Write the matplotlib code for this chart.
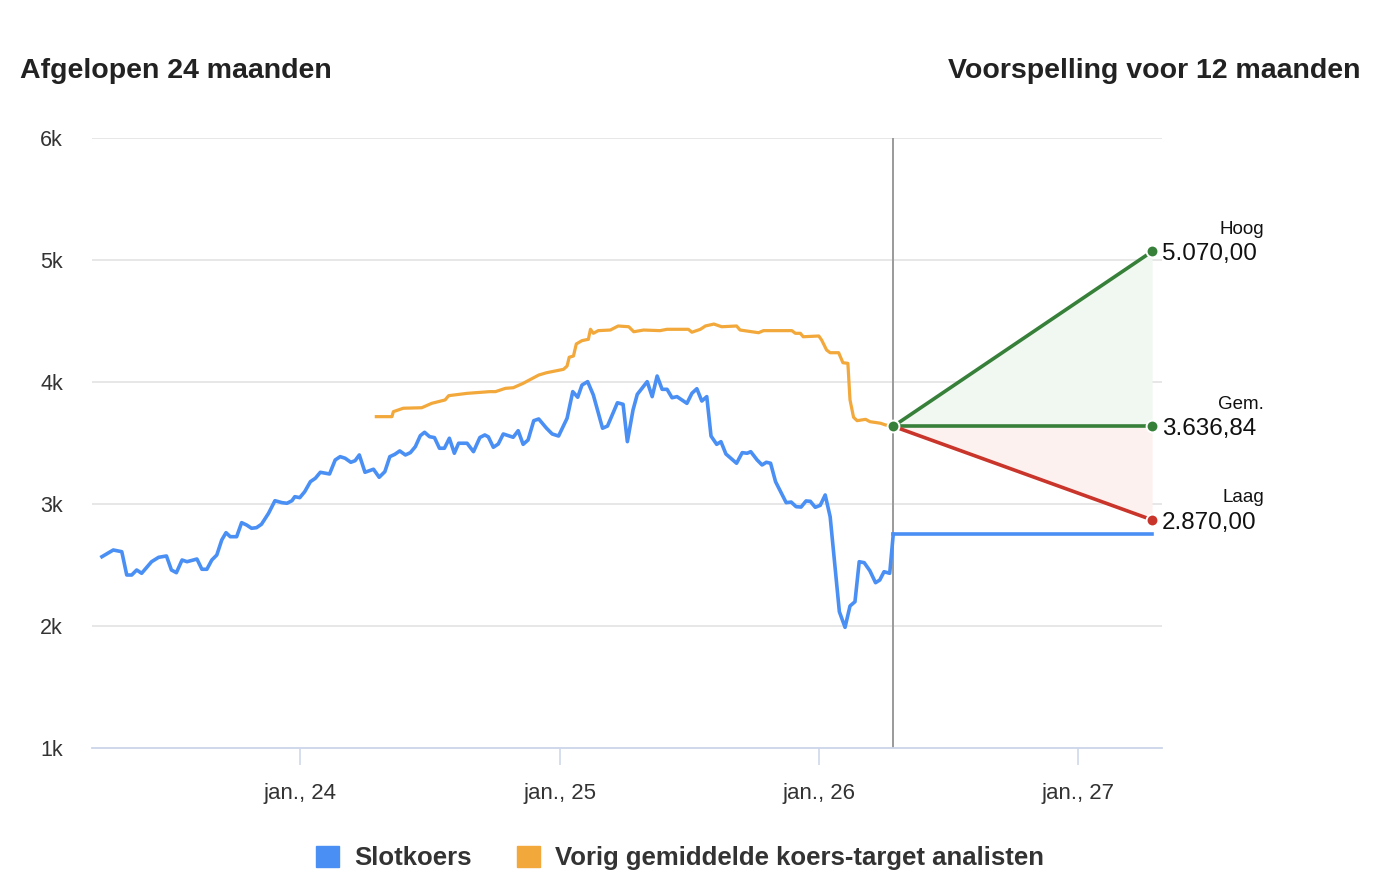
import numpy as np
import pandas as pd
import matplotlib
matplotlib.use("Agg")
import matplotlib.pyplot as plt
from matplotlib.patches import Patch

plt.rcParams['font.family'] = ['Liberation Sans', 'DejaVu Sans']

########## DATA (day offsets from 2023-01-01)
base = pd.Timestamp('2023-01-01')

close_days = [85, 101, 113, 120, 127, 134, 141, 155, 165, 176, 183, 190, 198, 205, 219, 226,
              233, 240, 247, 254, 260, 266, 275, 282, 289, 296, 303, 310, 320, 329, 339, 346,
              353, 357, 364, 371, 379, 386, 393, 406, 414, 421, 428, 436, 442, 448, 456, 468,
              476, 484, 491, 498, 505, 513, 520, 527, 534, 540, 547, 554, 561, 568, 575, 582,
              588, 600, 609, 618, 625, 630, 637, 644, 651, 665, 672, 679, 686, 694, 701, 712,
              720, 729, 741, 749, 756, 762, 770, 778, 791, 798, 812, 820, 826, 834, 840, 854,
              861, 868, 875, 882, 889, 896, 910, 917, 924, 931, 938, 944, 952, 958, 965, 980,
              988, 995, 1000, 1009, 1016, 1022, 1028, 1035, 1050, 1057, 1064, 1071, 1078, 1084,
              1091, 1098, 1105, 1112, 1125, 1133, 1140, 1147, 1153, 1160, 1168, 1176, 1182,
              1188, 1196, 1201]
close_vals = [2568, 2623, 2609, 2418, 2418, 2459, 2432, 2527, 2563, 2574, 2459, 2437, 2541, 2527,
              2549, 2465, 2465, 2541, 2582, 2705, 2765, 2732, 2732, 2847, 2828, 2801, 2806, 2834,
              2924, 3027, 3011, 3006, 3027, 3060, 3052, 3101, 3183, 3211, 3260, 3246, 3361, 3388,
              3375, 3342, 3355, 3402, 3260, 3285, 3219, 3265, 3388, 3407, 3435, 3402, 3421, 3470,
              3560, 3588, 3552, 3544, 3457, 3457, 3539, 3416, 3498, 3498, 3429, 3545, 3566, 3550,
              3465, 3492, 3574, 3547, 3601, 3489, 3525, 3683, 3697, 3621, 3574, 3557, 3703, 3921,
              3875, 3975, 4003, 3894, 3621, 3639, 3830, 3817, 3511, 3771, 3899, 4003, 3880, 4049,
              3940, 3940, 3871, 3880, 3825, 3907, 3945, 3844, 3880, 3557, 3489, 3511, 3410, 3334,
              3421, 3416, 3429, 3361, 3320, 3342, 3334, 3183, 3011, 3016, 2978, 2975, 3025, 3022,
              2973, 2989, 3074, 2896, 2117, 1989, 2164, 2199, 2527, 2519, 2453, 2355, 2377, 2445,
              2432, 2752]

target_days = [472, 494, 496, 510, 536, 550, 569, 574, 600, 632, 640, 654, 665, 679, 701, 712,
               736, 741, 744, 750, 754, 762, 771, 774, 778, 785, 802, 813, 828, 835, 849, 872,
               882, 912, 917, 929, 936, 948, 959, 980, 985, 1011, 1018, 1058, 1063, 1070, 1074,
               1096, 1100, 1107, 1112, 1124, 1130, 1137, 1140, 1145, 1150, 1162, 1168, 1183,
               1190, 1201]
target_vals = [3716, 3716, 3757, 3785, 3789, 3825, 3853, 3888, 3907, 3921, 3921, 3948, 3953, 3989,
               4057, 4076, 4104, 4131, 4203, 4213, 4312, 4339, 4350, 4432, 4399, 4421, 4426, 4459,
               4453, 4412, 4426, 4421, 4432, 4432, 4408, 4432, 4459, 4475, 4453, 4459, 4426, 4404,
               4421, 4421, 4399, 4399, 4371, 4377, 4344, 4262, 4240, 4240, 4158, 4153, 3853, 3711,
               3683, 3694, 3675, 3662, 3648, 3636.84]

today_day = 1201
forecast_day = 1566
last_close = 2752
fc_high = 5070.00
fc_mean = 3636.84
fc_low = 2870.00

tick_dates = ['2024-01-01', '2025-01-01', '2026-01-01', '2027-01-01']
tick_labels = ['jan., 24', 'jan., 25', 'jan., 26', 'jan., 27']
y_ticks = [1000, 2000, 3000, 4000, 5000, 6000]
y_labels = ['1k', '2k', '3k', '4k', '5k', '6k']

##############################################

BLUE = '#4a8ff4'
ORANGE = '#f2a83a'
GREEN = '#37803a'
RED = '#c9352a'

to_date = lambda d: base + pd.to_timedelta(np.asarray(d), unit='D')

close_x = to_date(close_days)
target_x = to_date(target_days)
t0 = to_date([today_day])[0]
t1 = to_date([forecast_day])[0]

fig = plt.figure(figsize=(13.86, 8.88), dpi=100)
ax = fig.add_axes([92 / 1386, 1 - 748 / 888, 1070 / 1386, 610 / 888])

for v in y_ticks[1:]:
    ax.axhline(v, color='#e0e0e0', lw=1.1, zorder=0)

# forecast cone
ax.fill_between([t0, t1], [fc_mean, fc_mean], [fc_mean, fc_high], color='#f1f7f1', lw=0, zorder=1)
ax.fill_between([t0, t1], [fc_mean, fc_low], [fc_mean, fc_mean], color='#fcf1ef', lw=0, zorder=1)

ax.axvline(t0, color='#9a9a9a', lw=1.4, zorder=2)

ax.plot(close_x, close_vals, color=BLUE, lw=2.6, zorder=3, solid_joinstyle='round')
ax.plot([t0, t1], [last_close, last_close], color=BLUE, lw=2.6, zorder=3)
ax.plot(target_x, target_vals, color=ORANGE, lw=2.3, zorder=3)

ax.plot([t0, t1], [fc_mean, fc_high], color=GREEN, lw=2.6, zorder=4)
ax.plot([t0, t1], [fc_mean, fc_mean], color=GREEN, lw=2.6, zorder=4)
ax.plot([t0, t1], [fc_mean, fc_low], color=RED, lw=2.6, zorder=4)

dot = dict(marker='o', ms=8.5, mec='white', mew=1.4, ls='none', zorder=5, clip_on=False)
ax.plot([t0], [fc_mean], color=GREEN, **dot)
ax.plot([t1], [fc_high], color=GREEN, **dot)
ax.plot([t1], [fc_mean], color=GREEN, **dot)
ax.plot([t1], [fc_low], color=RED, **dot)

for name, val in [('Hoog', fc_high), ('Gem.', fc_mean), ('Laag', fc_low)]:
    txt = f'{val:,.2f}'.replace(',', 'X').replace('.', ',').replace('X', '.')
    ax.annotate(txt, (t1, val), xytext=(10, -3), textcoords='offset pixels',
                ha='left', va='center', fontsize=17.5, color='#111111', annotation_clip=False)
    ax.annotate(name, (t1, val), xytext=(112, 22), textcoords='offset pixels',
                ha='right', va='center', fontsize=13.5, color='#111111', annotation_clip=False)

ax.set_xlim(to_date([71])[0], to_date([1580])[0])
ax.set_ylim(1000, 6000)

ax.set_xticks(pd.to_datetime(tick_dates))
ax.set_xticklabels(tick_labels)
ax.set_yticks(y_ticks)
ax.set_yticklabels(y_labels)
ax.tick_params(axis='x', length=12, width=1.1, color='#ccd6eb', pad=13, labelsize=16, labelcolor='#333333')
ax.tick_params(axis='y', length=0, pad=21, labelsize=15.5, labelcolor='#333333')

for s in ['top', 'right', 'left']:
    ax.spines[s].set_visible(False)
ax.spines['bottom'].set_color('#ccd6eb')
ax.spines['bottom'].set_linewidth(1.3)
ax.set_facecolor('none')

fig.text(20 / 1386, 1 - 78 / 888, 'Afgelopen 24 maanden', ha='left', va='baseline',
         fontsize=20.5, fontweight='bold', color='#222222')
fig.text(1360 / 1386, 1 - 78 / 888, 'Voorspelling voor 12 maanden', ha='right', va='baseline',
         fontsize=20.5, fontweight='bold', color='#222222')

handles = [Patch(color=BLUE, label='Slotkoers'),
           Patch(color=ORANGE, label='Vorig gemiddelde koers-target analisten')]
fig.legend(handles=handles, loc='center', bbox_to_anchor=(680 / 1386, 1 - 858 / 888), ncol=2,
           frameon=False, handlelength=0.92, handleheight=0.92, handletextpad=0.58,
           columnspacing=1.75, prop={'size': 18.5, 'weight': 'bold'}, labelcolor='#333333')

fig.savefig('out.png', dpi=100)
